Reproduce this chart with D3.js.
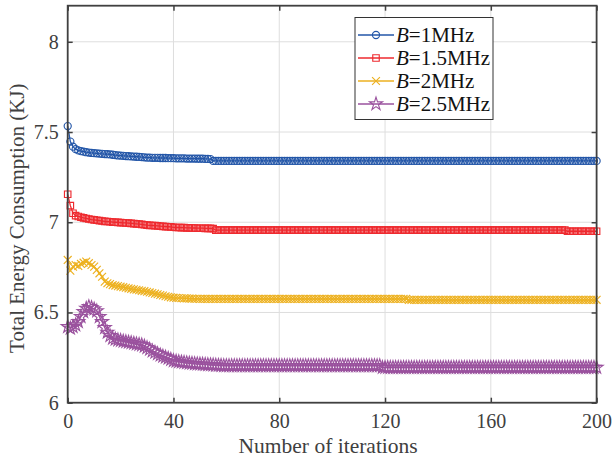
<!DOCTYPE html>
<html>
<head>
<meta charset="utf-8">
<script src="https://cdn.jsdelivr.net/npm/d3@7"></script>
<style>
html,body{margin:0;padding:0;background:#fff;}
svg{display:block;}
text{font-family:"Liberation Serif","DejaVu Serif",serif;}
</style>
</head>
<body>
<svg id="chart" width="613" height="464"></svg>
<script>
// ---------------- data ----------------
const xTicks = [0, 40, 80, 120, 160, 200];
const yTicks = [6, 6.5, 7, 7.5, 8];
const yTickLabels = ["6", "6.5", "7", "7.5", "8"];
const seriesNames = ["1MHz", "1.5MHz", "2MHz", "2.5MHz"];

const b1 = [
7.533,7.447,7.419,7.405,7.398,7.394,7.391,7.388,7.386,7.384,
7.383,7.382,7.380,7.379,7.378,7.377,7.376,7.374,7.372,7.370,
7.369,7.368,7.367,7.366,7.365,7.364,7.363,7.362,7.361,7.360,
7.358,7.358,7.357,7.357,7.357,7.356,7.356,7.356,7.355,7.355,
7.355,7.354,7.354,7.354,7.354,7.353,7.353,7.353,7.353,7.352,
7.352,7.352,7.351,7.351,7.350,7.340,7.340,7.340,7.340,7.340,
7.340,7.340,7.340,7.340,7.340,7.340,7.340,7.340,7.340,7.340,
7.340,7.340,7.340,7.340,7.340,7.340,7.340,7.340,7.340,7.340,
7.340,7.340,7.340,7.340,7.340,7.340,7.340,7.340,7.340,7.340,
7.340,7.340,7.340,7.340,7.340,7.340,7.340,7.340,7.340,7.340,
7.340,7.340,7.340,7.340,7.340,7.340,7.340,7.340,7.340,7.340,
7.340,7.340,7.340,7.340,7.340,7.340,7.340,7.340,7.340,7.340,
7.340,7.340,7.340,7.340,7.340,7.340,7.340,7.340,7.340,7.340,
7.340,7.340,7.340,7.340,7.340,7.340,7.340,7.340,7.340,7.340,
7.340,7.340,7.340,7.340,7.340,7.340,7.340,7.340,7.340,7.340,
7.340,7.340,7.340,7.340,7.340,7.340,7.340,7.340,7.340,7.340,
7.340,7.340,7.340,7.340,7.340,7.340,7.340,7.340,7.340,7.340,
7.340,7.340,7.340,7.340,7.340,7.340,7.340,7.340,7.340,7.340,
7.340,7.340,7.340,7.340,7.340,7.340,7.340,7.340,7.340,7.340,
7.340,7.340,7.340,7.340,7.340,7.340,7.340,7.340,7.340,7.340,
7.340
];

const b15 = [
7.155,7.092,7.050,7.037,7.032,7.028,7.024,7.021,7.018,7.015,
7.013,7.011,7.009,7.007,7.005,7.004,7.003,7.001,7.000,6.999,
6.998,6.997,6.996,6.995,6.994,6.992,6.991,6.990,6.988,6.986,
6.984,6.983,6.982,6.981,6.980,6.978,6.977,6.976,6.975,6.974,
6.972,6.971,6.971,6.970,6.970,6.969,6.969,6.968,6.968,6.967,
6.967,6.967,6.966,6.966,6.966,6.965,6.956,6.956,6.956,6.956,
6.956,6.956,6.956,6.956,6.956,6.956,6.956,6.956,6.956,6.956,
6.956,6.956,6.956,6.956,6.956,6.956,6.956,6.956,6.956,6.956,
6.956,6.956,6.956,6.956,6.956,6.956,6.956,6.956,6.956,6.956,
6.956,6.956,6.956,6.956,6.956,6.956,6.956,6.956,6.956,6.956,
6.956,6.956,6.956,6.956,6.956,6.956,6.956,6.956,6.956,6.956,
6.956,6.956,6.956,6.956,6.956,6.956,6.956,6.956,6.956,6.956,
6.956,6.956,6.956,6.956,6.956,6.956,6.956,6.956,6.956,6.956,
6.956,6.956,6.956,6.956,6.956,6.956,6.956,6.956,6.956,6.956,
6.956,6.956,6.956,6.956,6.956,6.956,6.956,6.956,6.956,6.956,
6.956,6.956,6.956,6.956,6.956,6.956,6.956,6.956,6.956,6.956,
6.956,6.956,6.956,6.956,6.956,6.956,6.956,6.956,6.956,6.956,
6.956,6.956,6.956,6.956,6.956,6.956,6.956,6.956,6.956,6.956,
6.956,6.956,6.956,6.956,6.956,6.956,6.956,6.956,6.956,6.950,
6.950,6.950,6.950,6.950,6.950,6.950,6.950,6.950,6.950,6.950,
6.950
];

const b2 = [
6.791,6.732,6.754,6.763,6.758,6.769,6.776,6.782,6.773,6.763,
6.754,6.736,6.717,6.698,6.671,6.662,6.657,6.652,6.649,6.646,
6.643,6.640,6.637,6.634,6.631,6.628,6.626,6.623,6.620,6.618,
6.615,6.611,6.608,6.604,6.601,6.597,6.594,6.590,6.587,6.584,
6.582,6.581,6.580,6.579,6.578,6.578,6.577,6.577,6.576,6.576,
6.575,6.575,6.575,6.575,6.575,6.575,6.575,6.575,6.575,6.575,
6.575,6.575,6.575,6.575,6.575,6.575,6.575,6.575,6.575,6.575,
6.575,6.575,6.575,6.575,6.575,6.575,6.575,6.575,6.575,6.575,
6.575,6.575,6.575,6.575,6.575,6.575,6.575,6.575,6.575,6.575,
6.575,6.575,6.575,6.575,6.575,6.575,6.575,6.575,6.575,6.575,
6.575,6.575,6.575,6.575,6.575,6.575,6.575,6.575,6.575,6.575,
6.575,6.575,6.575,6.575,6.575,6.575,6.575,6.575,6.575,6.575,
6.575,6.575,6.575,6.575,6.575,6.575,6.575,6.575,6.575,6.570,
6.570,6.570,6.570,6.570,6.570,6.570,6.570,6.570,6.570,6.570,
6.570,6.570,6.570,6.570,6.570,6.570,6.570,6.570,6.570,6.570,
6.570,6.570,6.570,6.570,6.570,6.570,6.570,6.570,6.570,6.570,
6.570,6.570,6.570,6.570,6.570,6.570,6.570,6.570,6.570,6.570,
6.570,6.570,6.570,6.570,6.570,6.570,6.570,6.570,6.570,6.570,
6.570,6.570,6.570,6.570,6.570,6.570,6.570,6.570,6.570,6.570,
6.570,6.570,6.570,6.570,6.570,6.570,6.570,6.570,6.570,6.570,
6.570
];

const b25 = [
6.421,6.412,6.421,6.431,6.449,6.477,6.504,6.523,6.532,6.527,
6.519,6.508,6.477,6.449,6.416,6.390,6.371,6.357,6.352,6.348,
6.345,6.341,6.338,6.335,6.332,6.329,6.326,6.323,6.320,6.313,
6.305,6.296,6.287,6.279,6.272,6.264,6.258,6.252,6.246,6.240,
6.233,6.230,6.227,6.225,6.223,6.221,6.219,6.218,6.216,6.215,
6.214,6.213,6.212,6.211,6.210,6.209,6.208,6.207,6.206,6.205,
6.205,6.205,6.205,6.205,6.205,6.205,6.205,6.205,6.205,6.205,
6.205,6.205,6.205,6.205,6.205,6.205,6.205,6.205,6.205,6.205,
6.205,6.205,6.205,6.205,6.205,6.205,6.205,6.205,6.205,6.205,
6.205,6.205,6.205,6.205,6.205,6.205,6.205,6.205,6.205,6.205,
6.205,6.205,6.205,6.205,6.205,6.205,6.205,6.205,6.205,6.205,
6.205,6.205,6.205,6.205,6.205,6.205,6.205,6.205,6.205,6.195,
6.195,6.195,6.195,6.195,6.195,6.195,6.195,6.195,6.195,6.195,
6.195,6.195,6.195,6.195,6.195,6.195,6.195,6.195,6.195,6.195,
6.195,6.195,6.195,6.195,6.195,6.195,6.195,6.195,6.195,6.195,
6.195,6.195,6.195,6.195,6.195,6.195,6.195,6.195,6.195,6.195,
6.195,6.195,6.195,6.195,6.195,6.195,6.195,6.195,6.195,6.195,
6.195,6.195,6.195,6.195,6.195,6.195,6.195,6.195,6.195,6.195,
6.195,6.195,6.195,6.195,6.195,6.195,6.195,6.195,6.195,6.195,
6.195,6.195,6.195,6.195,6.195,6.195,6.195,6.195,6.195,6.195,
6.195
];

// ---------------- layout ----------------
const svg = d3.select("#chart");
const L = 67.7, R = 596.6, T = 5.7, B = 402.7;
const x = d3.scaleLinear().domain([0, 200]).range([L, R]);
const y = d3.scaleLinear().domain([6, 8.2]).range([B, T]);
const axisCol = "#404040";
const gridCol = "#dedede";

const series = [
  {name: seriesNames[0], data: b1,  color: "#2356a8", marker: "circle"},
  {name: seriesNames[1], data: b15, color: "#ee2a2f", marker: "square"},
  {name: seriesNames[2], data: b2,  color: "#edb120", marker: "cross"},
  {name: seriesNames[3], data: b25, color: "#9a529e", marker: "star"}
];

// grid
const g = svg.append("g");
g.selectAll(".gx").data(xTicks).join("line")
  .attr("x1", d => x(d)).attr("x2", d => x(d)).attr("y1", T).attr("y2", B)
  .attr("stroke", gridCol).attr("stroke-width", 1);
g.selectAll(".gy").data(yTicks).join("line")
  .attr("y1", d => y(d)).attr("y2", d => y(d)).attr("x1", L).attr("x2", R)
  .attr("stroke", gridCol).attr("stroke-width", 1);

// markers
const symGen = {
  circle: d3.symbol().type(d3.symbolCircle).size(40),
  square: d3.symbol().type(d3.symbolSquare).size(42),
  cross: d3.symbol().type(d3.symbolX).size(42),
  star: d3.symbol().type(d3.symbolStar).size(52)
};
const line = d3.line().x((d, i) => x(i)).y(d => y(d));

const plot = svg.append("g");
series.forEach(s => {
  plot.append("path").datum(s.data).attr("d", line)
    .attr("fill", "none").attr("stroke", s.color).attr("stroke-width", 1.3);
  plot.append("g").selectAll("path").data(s.data).join("path")
    .attr("transform", (d, i) => `translate(${x(i)},${y(d)})`)
    .attr("d", symGen[s.marker]())
    .attr("fill", "none").attr("stroke", s.color).attr("stroke-width", 1.15);
});

// axes with inward ticks
const xAxisB = d3.axisBottom(x).tickValues(xTicks).tickSizeInner(-5).tickSizeOuter(0).tickPadding(11);
const yAxisL = d3.axisLeft(y).tickValues(yTicks).tickFormat((d, i) => yTickLabels[i]).tickSizeInner(-5).tickSizeOuter(0).tickPadding(9);
const xAxisT = d3.axisTop(x).tickValues(xTicks).tickSizeInner(-5).tickSizeOuter(0).tickFormat("");
const yAxisR = d3.axisRight(y).tickValues(yTicks).tickSizeInner(-5).tickSizeOuter(0).tickFormat("");

function styleAxis(sel) {
  sel.select(".domain").remove();
  sel.selectAll("line").attr("stroke", axisCol).attr("stroke-width", 1.5);
  sel.selectAll("text").attr("fill", axisCol).style("font-size", "20px")
    .style("font-family", "'Liberation Serif', serif");
}
svg.append("g").attr("transform", `translate(0,${B})`).call(xAxisB).call(styleAxis);
svg.append("g").attr("transform", `translate(${L},0)`).call(yAxisL).call(styleAxis);
svg.append("g").attr("transform", `translate(0,${T})`).call(xAxisT).call(styleAxis);
svg.append("g").attr("transform", `translate(${R},0)`).call(yAxisR).call(styleAxis);

// frame
svg.append("rect").attr("x", L).attr("y", T).attr("width", R - L).attr("height", B - T)
  .attr("fill", "none").attr("stroke", axisCol).attr("stroke-width", 1.8);

// axis labels
svg.append("text").attr("x", (L + R) / 2 - 4).attr("y", 453).attr("text-anchor", "middle")
  .attr("fill", axisCol).style("font-size", "21.5px").text("Number of iterations");
svg.append("text").attr("transform", `translate(24,${(T + B) / 2 + 14}) rotate(-90)`)
  .attr("text-anchor", "middle").attr("fill", axisCol).style("font-size", "21px")
  .text("Total Energy Consumption (KJ)");

// legend
const lg = svg.append("g");
const lx = 355, ly = 17.5, lw = 138, lh = 102;
lg.append("rect").attr("x", lx).attr("y", ly).attr("width", lw).attr("height", lh)
  .attr("fill", "#fff").attr("stroke", "#333").attr("stroke-width", 1);
series.forEach((s, i) => {
  const yy = 35 + i * 23;
  lg.append("line").attr("x1", lx + 3).attr("x2", lx + 39).attr("y1", yy).attr("y2", yy)
    .attr("stroke", s.color).attr("stroke-width", 1.3);
  lg.append("path").attr("transform", `translate(${lx + 21},${yy})`).attr("d", symGen[s.marker]())
    .attr("fill", "none").attr("stroke", s.color).attr("stroke-width", 1.15);
  const t = lg.append("text").attr("x", lx + 41).attr("y", yy + 6.5).attr("fill", "#111")
    .style("font-size", "21px");
  t.append("tspan").style("font-style", "italic").text("B");
  t.append("tspan").text("=" + s.name);
});
</script>
</body>
</html>
